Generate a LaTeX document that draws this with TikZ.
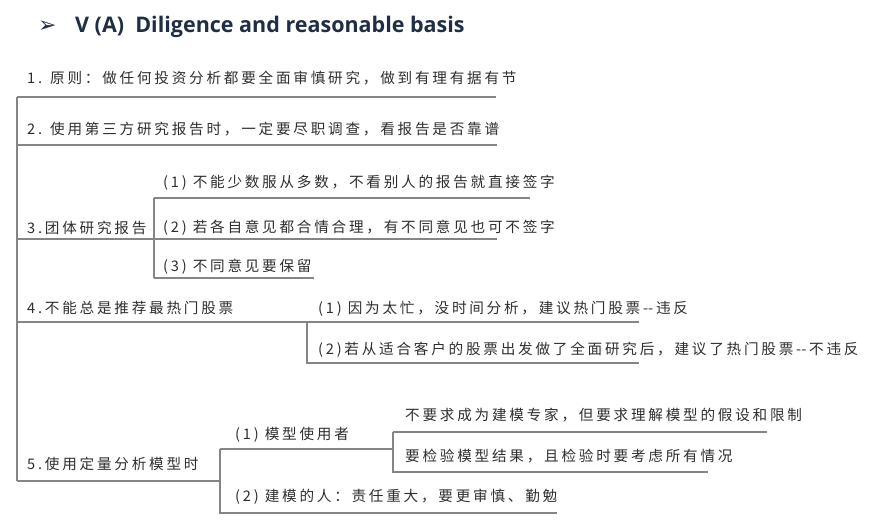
\documentclass[tikz,border=0pt]{standalone}
\usepackage{fontspec}
\setmainfont{Noto Sans CJK SC}[LetterSpace=19]
\newfontfamily\headfont{Open Sans}[BoldFont={Open Sans Bold}]
\newfontfamily\symfont{DejaVu Sans}
\newcommand\dd{-\kern0pt-}
\begin{document}
\begin{tikzpicture}[x=1pt,y=-1pt,
  branch/.style={draw=black!48,line width=1.4pt},
  label/.style={anchor=west,inner sep=0pt,text=black!82,font=\fontsize{14.6}{16}\selectfont},
  headline/.style={anchor=west,inner sep=0pt,text=titlecol,font=\headfont\bfseries\fontsize{21.5}{24}\selectfont}]
\definecolor{titlecol}{HTML}{1F2E45}
\useasboundingbox (0,0) rectangle (882,519);

% heading
\node[anchor=west,inner sep=0pt,text=titlecol,font=\symfont\fontsize{22}{24}\selectfont] (bullet) at (38,27) {➢};
\node[headline] (title) at (75,27) {V (A)\ \ Diligence and reasonable basis};

% junction points of the tree
\coordinate (rootTop) at (17,97);
\coordinate (rootBot) at (17,481);
\coordinate (e1) at (496,97);
\coordinate (j2) at (17,145);   \coordinate (e2) at (497,145);
\coordinate (j3) at (17,239);   \coordinate (k3) at (154,239);
\coordinate (k3a) at (154,198); \coordinate (e3a) at (530,198);
\coordinate (e3b) at (497,239);
\coordinate (k3c) at (154,278); \coordinate (e3c) at (314,278);
\coordinate (j4) at (17,322);   \coordinate (k4) at (307,322);
\coordinate (e4a) at (639,322);
\coordinate (k4b) at (307,363); \coordinate (e4b) at (639,363);
\coordinate (k5) at (220,481);
\coordinate (k5a) at (220,449); \coordinate (m5) at (393,449);
\coordinate (m5t) at (393,432); \coordinate (e5t) at (767,432);
\coordinate (m5b) at (393,472); \coordinate (e5b) at (708,472);
\coordinate (k5b) at (220,513); \coordinate (e5c) at (557,513);

% connectors
\draw[branch] (rootTop) -- (rootBot);
\draw[branch] (rootTop) -- (e1);
\draw[branch] (j2) -- (e2);
\draw[branch] (j3) -- (k3) -- (e3b);
\draw[branch] (k3a) -- (k3c);
\draw[branch] (k3a) -- (e3a);
\draw[branch] (k3c) -- (e3c);
\draw[branch] (j4) -- (k4) -- (e4a);
\draw[branch] (k4) -- (k4b) -- (e4b);
\draw[branch] (rootBot) -- (k5);
\draw[branch] (k5a) -- (k5b) -- (e5c);
\draw[branch] (k5a) -- (m5);
\draw[branch] (m5t) -- (m5b) -- (e5b);
\draw[branch] (m5t) -- (e5t);

% texts
\node[label] (t1) at (27,78) {1. 原则：做任何投资分析都要全面审慎研究，做到有理有据有节};
\node[label] (t2) at (27,129) {2. 使用第三方研究报告时，一定要尽职调查，看报告是否靠谱};
\node[label] (t3) at (27,228) {3.团体研究报告};
\node[label] (t3a) at (163,183) {(1) 不能少数服从多数，不看别人的报告就直接签字};
\node[label] (t3b) at (163,228) {(2) 若各自意见都合情合理，有不同意见也可不签字};
\node[label] (t3c) at (163,267) {(3) 不同意见要保留};
\node[label] (t4) at (27,308) {4.不能总是推荐最热门股票};
\node[label] (t4a) at (318,309) {(1) 因为太忙，没时间分析，建议热门股票\dd 违反};
\node[label] (t4b) at (318,350) {(2)若从适合客户的股票出发做了全面研究后，建议了热门股票\dd 不违反};
\node[label] (t5) at (27,464) {5.使用定量分析模型时};
\node[label] (t5a) at (235,435) {(1) 模型使用者};
\node[label] (t5a1) at (405,415) {不要求成为建模专家，但要求理解模型的假设和限制};
\node[label] (t5a2) at (405,456) {要检验模型结果，且检验时要考虑所有情况};
\node[label] (t5b) at (235,497) {(2) 建模的人：责任重大，要更审慎、勤勉};
\end{tikzpicture}
\end{document}
